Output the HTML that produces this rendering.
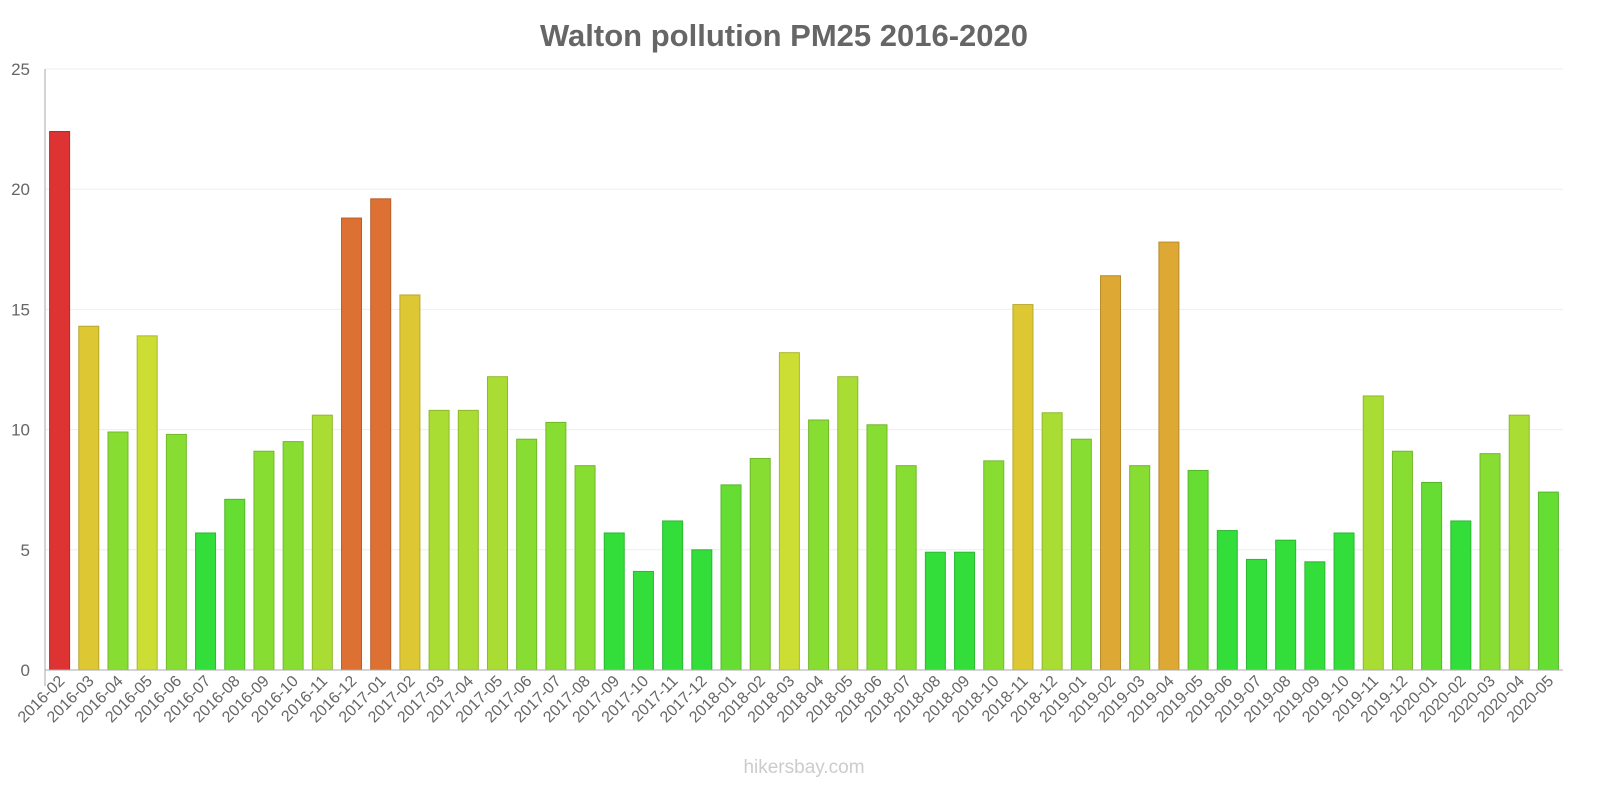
<!DOCTYPE html>
<html><head><meta charset="utf-8"><style>
body{margin:0;background:#fff;width:1600px;height:800px;overflow:hidden}
svg{font-family:"Liberation Sans",sans-serif}
</style></head><body>
<svg id="chart" width="1600" height="800" xmlns="http://www.w3.org/2000/svg">
<text x="784" y="46" text-anchor="middle" font-size="31" font-weight="bold" fill="#666">Walton pollution PM25 2016-2020</text>
<g id="grid"></g><g id="bars"></g><g id="axes"></g>
<text x="804" y="773" text-anchor="middle" font-size="19" fill="#ccc">hikersbay.com</text>
</svg>
<script>
const categories=["2016-02","2016-03","2016-04","2016-05","2016-06","2016-07","2016-08","2016-09","2016-10","2016-11","2016-12","2017-01","2017-02","2017-03","2017-04","2017-05","2017-06","2017-07","2017-08","2017-09","2017-10","2017-11","2017-12","2018-01","2018-02","2018-03","2018-04","2018-05","2018-06","2018-07","2018-08","2018-09","2018-10","2018-11","2018-12","2019-01","2019-02","2019-03","2019-04","2019-05","2019-06","2019-07","2019-08","2019-09","2019-10","2019-11","2019-12","2020-01","2020-02","2020-03","2020-04","2020-05"];
const values=[22.4,14.3,9.9,13.9,9.8,5.7,7.1,9.1,9.5,10.6,18.8,19.6,15.6,10.8,10.8,12.2,9.6,10.3,8.5,5.7,4.1,6.2,5.0,7.7,8.8,13.2,10.4,12.2,10.2,8.5,4.9,4.9,8.7,15.2,10.7,9.6,16.4,8.5,17.8,8.3,5.8,4.6,5.4,4.5,5.7,11.4,9.1,7.8,6.2,9.0,10.6,7.4];
const yTicks=[0,5,10,15,20,25];
const NS="http://www.w3.org/2000/svg";
const x0=45,x1=1563,y0=670,y1=69,ymax=25;
const band=(x1-x0)/categories.length;
const xs=i=>x0+band*(i+0.5);
const ys=v=>y0-(v/ymax)*(y0-y1);
function mk(t,a,p){const e=document.createElementNS(NS,t);for(const k in a)e.setAttribute(k,a[k]);p.appendChild(e);return e;}
function col(v){if(v<7)return["#33dd3a","#2bb830"];if(v<8.5)return["#66dd33","#55b82b"];if(v<10.5)return["#88dd33","#72b82b"];if(v<13)return["#aadd33","#8eb82b"];if(v<14)return["#ccdd33","#aab82b"];if(v<16)return["#ddc833","#b8a72b"];if(v<18)return["#dda833","#b88c2b"];if(v<21)return["#dd7033","#b85d2b"];return["#dd3333","#b82b2b"];}
const grid=document.getElementById('grid'),bars=document.getElementById('bars'),axes=document.getElementById('axes');
yTicks.forEach(t=>{
 const g=mk('line',{x1:x0,x2:x1,y1:ys(t),y2:ys(t),stroke:"#eee"},grid);
 
 
 const l=mk('text',{x:30,y:ys(t)+6,"text-anchor":"end","font-size":17,fill:"#666"},axes);
 l.textContent=t;
 
 
});
const ax=mk('line',{x1:x0,x2:x0,y1:y1,y2:y0+16,stroke:"#aaa"},axes);


const bx=mk('line',{x1:x0,x2:x1,y1:y0,y2:y0,stroke:"#aaa"},axes);


values.forEach((v,i)=>{
 const c=col(v),w=20;
 const r=mk('rect',{x:xs(i)-w/2,y:ys(v),width:w,height:y0-ys(v),fill:c[0],stroke:c[1],"stroke-width":1},bars);
 
 
 const tx=xs(i)+6,ty=y0+12;
 const l=mk('text',{x:tx,y:ty,"text-anchor":"end","font-size":16,fill:"#666",transform:`rotate(-45 ${tx} ${ty})`},axes);
 l.textContent=categories[i];
 
 
});
</script>
</body></html>
